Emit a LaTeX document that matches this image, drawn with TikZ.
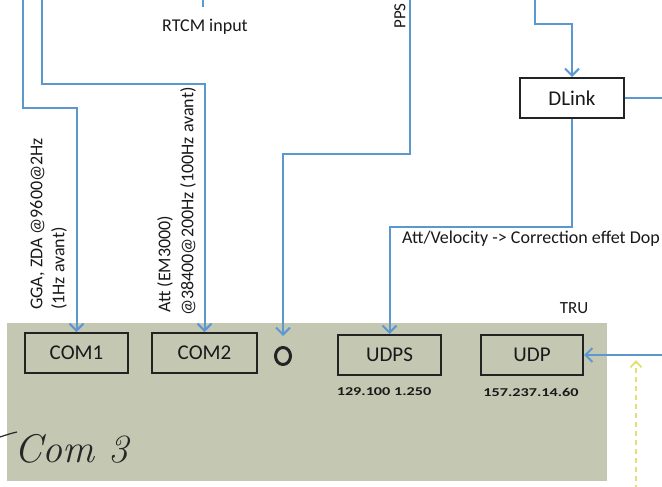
\documentclass[tikz,border=0pt]{standalone}
\usepackage{fontspec}
\usepackage{graphicx}
\setmainfont{Carlito}
\usetikzlibrary{arrows.meta,shapes.geometric}
\definecolor{lineblue}{RGB}{92,152,208}
\definecolor{panelgrey}{RGB}{196,199,178}
\definecolor{boxedge}{RGB}{35,35,35}
\definecolor{textdark}{RGB}{25,25,25}
\definecolor{dashyellow}{RGB}{228,224,120}
\tikzset{
  conn/.style={draw=lineblue, line width=2pt, -{Straight Barb[length=7pt,width=14pt,line width=2pt]}},
  plainconn/.style={draw=lineblue, line width=2pt},
  portbox/.style={draw=boxedge, line width=2pt, minimum width=103pt, minimum height=40pt, inner sep=0pt,
                  text=textdark, font=\fontsize{21}{21}\selectfont},
  lbl/.style={text=textdark, inner sep=0pt, font=\fontsize{18}{18}\selectfont},
  rlbl/.style={lbl, rotate=90, anchor=west},
  iplbl/.style={text=textdark, inner sep=0pt, font=\fontsize{12}{12}\selectfont\bfseries},
}
\begin{document}
\begin{tikzpicture}[x=1pt,y=-1pt]
\useasboundingbox (0,0) rectangle (662,487);
\clip (0,0) rectangle (662,487);
\fill[white] (0,0) rectangle (662,487);
% panel
\node[fill=panelgrey, draw=none, minimum width=600pt, minimum height=158pt, inner sep=0pt] (panel) at (307,402) {};
% port boxes
\node[portbox] (COM1) at (76.5,353) {COM1};
\node[portbox, minimum width=105pt] (COM2) at (204.5,353) {COM2};
\node[draw=boxedge, line width=3pt, ellipse, minimum width=15pt, minimum height=17pt, inner sep=0pt] (ring) at (283,356) {};
\node[portbox] (UDPS) at (389.5,355) {UDPS};
\node[portbox, minimum width=102pt] (UDP) at (532,355) {UDP};
\node[iplbl] (ip1) at (384,392) {\scalebox{1.35}[1]{129.100 1.250}};
\node[iplbl] (ip2) at (531,392) {\scalebox{1.35}[1]{157.237.14.60}};
% DLink
\node[portbox, fill=white, minimum width=104pt] (DLink) at (572,98) {DLink};
% handwritten note
\node[text=black!85, inner sep=0pt, font=\fontfamily{lmr}\fontsize{40}{40}\selectfont\itshape, anchor=west] (com3) at (14,449) {Com 3};
\draw[black!85, line width=1.2pt] (0,437) .. controls (6,435) and (12,433) .. (17,432);
% free ends
\coordinate (s1) at (23,0);
\coordinate (s2) at (42,0);
\coordinate (s3) at (410,0);
\coordinate (s4) at (535,0);
\coordinate (t1) at (203,0);
\coordinate (t2) at (203,7);
\coordinate (e1) at (662,98);
\coordinate (e2) at (662,355);
\coordinate (y1) at (636,490);
\coordinate (y2) at (636,360);
% connectors
\draw[conn] (s1) -- (23,108) -| (COM1.north);
\draw[conn] (s2) -- (42,84) -| (COM2.north);
\draw[conn, shorten >=10pt] (s3) -- (410,154) -| (ring.north);
\draw[conn] (s4) -- (535,24) -| (DLink.north);
\draw[conn] (DLink.south) -- (572,227) -| (UDPS.north);
\draw[plainconn] (DLink.east) -- (e1);
\draw[conn, line width=2.4pt] (e2) -- (UDP.east);
\draw[plainconn] (t1) -- (t2);
\draw[draw=dashyellow, line width=1.8pt, dash pattern=on 5pt off 4pt, -{Straight Barb[length=6pt,width=11pt,line width=1.8pt]}] (y1) -- (y2);
% labels
\node[lbl] (rtcm) at (205,27) {RTCM input};
\node[lbl, rotate=90, font=\fontsize{17}{17}\selectfont] (pps) at (400,16) {PPS};
\node[rlbl] (gga1) at (37.5,310) {GGA, ZDA @9600@2Hz};
\node[rlbl] (gga2) at (59,310) {(1Hz avant)};
\node[rlbl] (att1) at (165,313) {Att (EM3000)};
\node[rlbl] (att2) at (188,316) {@38400@200Hz (100Hz avant)};
\node[lbl, anchor=west] (vel) at (402,239) {Att/Velocity -> Correction effet Dop};
\node[lbl, font=\fontsize{17}{17}\selectfont] (tru) at (574,308) {TRU};
\end{tikzpicture}
\end{document}
